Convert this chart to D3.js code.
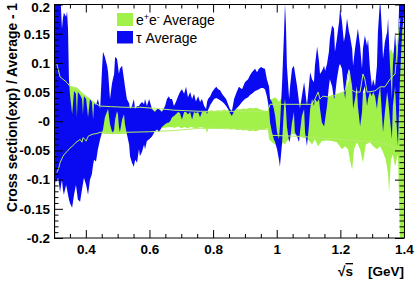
<!DOCTYPE html>
<meta charset="utf-8">
<script src="https://d3js.org/d3.v7.min.js"></script>
<style>
  body { margin: 0; background: #fff; }
  text { font-family: "Liberation Sans", Arial, sans-serif; }
</style>
<svg id="my_dataviz" width="415" height="281"></svg>
<script>

// e+e- average band (relative)
var eeX = [0.300,0.303,0.306,0.313,0.319,0.325,0.331,0.341,0.350,0.363,
  0.372,0.382,0.391,0.401,0.407,0.413,0.423,0.435,0.445,0.476,
  0.507,0.539,0.570,0.602,0.633,0.665,
  0.680,0.690,0.700,0.710,0.720,0.730,0.740,0.750,0.760,0.770,
  0.776,0.781,0.785,
  0.795,0.805,0.815,0.825,0.835,0.845,0.855,0.865,0.875,0.885,
  0.895,0.905,0.915,0.925,0.935,0.945,0.955,0.965,0.972,
  0.976,0.985,0.995,1.001,1.007,1.013,1.020,1.026,1.032,1.042,
  1.048,1.064,1.079,1.095,1.111,1.120,1.130,1.142,1.158,1.174,
  1.189,1.205,1.215,1.224,1.230,1.237,1.243,1.252,1.262,1.271,
  1.280,1.293,1.303,1.315,1.325,1.334,1.343,1.350,1.353,1.359,
  1.365,1.372,1.378,1.381,1.387,1.394,1.400];
var eeHi = [0.3,0.3,0.098,0.086,0.076,0.072,0.069,0.064,0.060,0.059,
  0.057,0.052,0.047,0.043,0.041,0.038,0.034,0.029,0.026,0.024,
  0.024,0.024,0.022,0.021,0.019,0.017,
  0.018,0.016,0.019,0.017,0.018,0.016,0.019,0.017,0.018,0.016,
  0.018,0.028,0.017,
  0.019,0.017,0.019,0.018,0.020,0.018,0.020,0.019,0.021,0.020,
  0.022,0.021,0.023,0.022,0.023,0.021,0.019,0.018,0.017,
  0.038,0.038,0.041,0.038,0.033,0.038,0.047,0.052,0.038,0.034,
  0.033,0.031,0.031,0.033,0.036,0.038,0.038,0.040,0.041,0.045,
  0.047,0.050,0.052,0.064,0.081,0.072,0.055,0.047,0.045,0.048,
  0.050,0.052,0.055,0.055,0.059,0.064,0.081,0.107,0.115,0.124,
  0.115,0.124,0.133,0.141,0.193,0.3,0.3];
var eeLo = [-0.3,-0.3,-0.097,-0.086,-0.071,-0.060,-0.057,-0.052,-0.043,-0.038,
  -0.034,-0.031,-0.028,-0.031,-0.022,-0.026,-0.022,-0.021,-0.021,-0.022,
  -0.022,-0.021,-0.019,-0.016,-0.012,-0.010,
  -0.011,-0.009,-0.012,-0.010,-0.012,-0.010,-0.011,-0.012,-0.010,-0.011,
  -0.012,-0.020,-0.011,
  -0.012,-0.011,-0.013,-0.012,-0.013,-0.012,-0.014,-0.013,-0.015,-0.014,
  -0.016,-0.015,-0.017,-0.016,-0.017,-0.015,-0.014,-0.013,-0.012,
  -0.031,-0.036,-0.040,-0.043,-0.053,-0.045,-0.036,-0.040,-0.034,-0.028,
  -0.022,-0.024,-0.028,-0.029,-0.040,-0.031,-0.043,-0.034,-0.033,-0.034,
  -0.036,-0.048,-0.043,-0.048,-0.066,-0.083,-0.048,-0.036,-0.048,-0.071,
  -0.040,-0.036,-0.043,-0.048,-0.043,-0.053,-0.066,-0.091,-0.122,-0.066,
  -0.057,-0.078,-0.062,-0.057,-0.191,-0.3,-0.3];

// tau average band (relative)
var tauX = [0.300,0.303,0.306,0.313,0.319,0.322,0.325,0.328,0.331,0.338,
  0.341,0.344,0.347,0.350,0.357,0.363,0.369,0.372,0.375,0.382,
  0.388,0.391,0.394,0.401,0.407,0.413,0.419,0.423,0.426,0.432,
  0.438,0.445,0.451,0.454,0.460,0.467,0.470,0.476,0.482,0.485,
  0.489,0.492,0.498,0.501,0.504,0.507,0.514,0.520,0.523,0.529,
  0.536,0.539,0.545,0.551,0.555,0.561,0.567,0.570,0.577,0.583,
  0.586,0.592,0.599,0.608,0.617,0.624,0.630,0.639,0.649,0.655,
  0.661,0.665,0.671,0.677,0.683,0.690,0.696,0.702,0.709,0.715,
  0.721,0.728,0.734,0.740,0.746,0.753,0.759,0.765,0.772,0.778,
  0.781,0.784,0.791,0.797,0.803,0.810,0.816,0.822,0.828,0.834,
  0.841,0.847,0.853,0.859,0.866,0.872,0.881,0.891,0.900,0.910,
  0.916,0.922,0.932,0.938,0.944,0.951,0.957,0.963,0.969,0.976,
  0.979,0.985,0.991,0.995,1.001,1.007,1.010,1.017,1.023,1.026,
  1.029,1.032,1.039,1.042,1.048,1.054,1.057,1.064,1.070,1.073,
  1.079,1.086,1.089,1.095,1.101,1.105,1.111,1.117,1.120,1.127,
  1.133,1.136,1.142,1.149,1.152,1.158,1.164,1.167,1.174,1.180,
  1.183,1.189,1.196,1.199,1.205,1.211,1.215,1.221,1.227,1.230,
  1.237,1.240,1.246,1.252,1.255,1.262,1.268,1.271,1.277,1.284,
  1.287,1.293,1.299,1.303,1.309,1.315,1.318,1.325,1.331,1.334,
  1.340,1.347,1.350,1.356,1.362,1.365,1.372,1.378,1.381,1.387,
  1.394,1.400];
var tauHi = [0.25,0.25,0.25,0.25,0.25,0.193,0.159,0.176,0.186,0.179,
  0.188,0.159,0.072,0.047,0.012,0.052,0.047,0.007,0.050,0.045,
  0.038,0.012,0.043,0.038,0.007,0.038,0.033,0.003,0.031,0.028,
  0.038,0.021,0.090,0.119,0.110,0.095,0.084,0.038,0.064,0.072,
  0.081,0.110,0.107,0.095,0.081,0.090,0.095,0.072,0.060,0.038,
  0.031,0.021,0.026,0.038,0.021,0.026,0.026,0.029,0.033,0.029,
  0.038,0.026,0.038,0.021,0.016,0.021,0.021,0.016,0.026,0.038,
  0.043,0.038,0.038,0.026,0.033,0.043,0.050,0.055,0.047,0.059,
  0.041,0.050,0.038,0.047,0.034,0.043,0.033,0.038,0.026,0.021,
  0.033,0.038,0.043,0.050,0.055,0.059,0.055,0.053,0.047,0.043,
  0.038,0.029,0.021,0.017,0.038,0.047,0.059,0.055,0.067,0.072,
  0.079,0.084,0.090,0.084,0.090,0.093,0.091,0.090,0.072,0.059,
  0.038,0.033,0.021,0.009,-0.019,-0.031,-0.009,0.067,0.153,0.202,
  0.164,0.095,0.038,0.060,0.090,0.095,0.084,0.060,0.033,0.021,
  0.043,0.067,0.055,0.026,0.060,0.084,0.072,0.067,0.095,0.128,
  0.102,0.081,0.086,0.095,0.086,0.098,0.119,0.141,0.164,0.159,
  0.119,0.141,0.171,0.193,0.171,0.136,0.147,0.176,0.153,0.147,
  0.124,0.095,0.124,0.147,0.159,0.129,0.090,0.124,0.147,0.129,
  0.141,0.090,0.060,0.072,0.060,0.095,0.153,0.21,0.153,0.107,
  0.136,0.153,0.176,0.095,0.038,0.095,0.153,0.095,0.124,0.25,
  0.25,0.25];
var tauLo = [-0.095,-0.100,-0.105,-0.097,-0.121,-0.110,-0.100,-0.117,-0.126,-0.109,
  -0.117,-0.126,-0.134,-0.140,-0.148,-0.126,-0.109,-0.121,-0.134,-0.138,
  -0.117,-0.107,-0.097,-0.109,-0.126,-0.100,-0.091,-0.074,-0.066,-0.069,
  -0.048,-0.031,-0.019,-0.014,0.007,0.017,0.021,-0.005,-0.017,-0.021,
  -0.014,0.003,0.017,0.012,-0.010,-0.019,0.003,0.012,-0.005,-0.022,
  -0.040,-0.060,-0.071,-0.078,-0.066,-0.071,-0.048,-0.060,-0.052,-0.040,
  -0.048,-0.034,-0.031,-0.026,-0.017,-0.014,-0.019,-0.010,-0.005,-0.003,
  -0.002,0.000,0.007,0.009,0.012,0.016,0.014,0.003,0.016,0.016,
  0.012,0.016,0.003,0.016,0.014,0.016,0.007,0.016,0.016,0.017,
  0.012,0.019,0.028,0.033,0.038,0.040,0.038,0.036,0.034,0.031,
  0.026,0.021,0.014,0.009,0.017,0.021,0.026,0.033,0.038,0.041,
  0.045,0.047,0.052,0.053,0.055,0.057,0.057,0.055,0.043,0.021,
  -0.002,-0.019,-0.031,-0.036,-0.048,-0.066,-0.078,-0.036,0.026,0.038,
  0.021,-0.009,-0.036,-0.031,-0.002,0.016,-0.019,-0.026,-0.036,-0.019,
  0.009,0.021,-0.019,-0.043,-0.009,0.021,0.038,0.026,0.038,0.033,
  0.038,0.021,-0.002,-0.009,0.003,0.026,0.060,0.072,0.060,0.038,
  0.043,0.072,0.095,0.098,0.090,0.055,0.038,0.078,0.090,0.084,
  0.060,0.021,0.038,0.060,0.026,-0.009,0.016,0.050,0.060,0.026,
  0.038,0.050,0.043,0.050,0.043,0.021,0.038,0.060,0.009,-0.019,
  0.016,0.050,0.038,0.003,-0.031,0.026,0.060,-0.019,-0.043,0.067,
  0.153,0.184];

// thin outline lines of the e+e- band
var lineHiX = [0.309,0.319,0.328,0.335,0.341,0.350,0.360,0.372,0.382,0.391,
  0.401,0.413,0.423,0.435,0.445,0.480,0.520,0.570,0.620,0.677,
  0.760,0.972,0.979,1.042,1.111,1.120,1.130,1.136,1.145,1.167,
  1.199,1.215,1.227,1.233,1.246,1.262,1.271,1.277,1.284,1.309,
  1.325,1.340,1.356,1.372,1.387];
var lineHi = [0.098,0.076,0.072,0.069,0.066,0.060,0.058,0.057,0.052,0.047,
  0.043,0.038,0.034,0.029,0.026,0.025,0.024,0.024,0.022,0.019,
  0.017,0.017,0.029,0.029,0.029,0.038,0.050,0.038,0.043,0.041,
  0.047,0.052,0.086,0.055,0.050,0.050,0.081,0.072,0.050,0.052,
  0.059,0.059,0.072,0.081,0.176];
var lineLoX = [0.309,0.315,0.319,0.325,0.328,0.335,0.341,0.350,0.357,0.363,
  0.369,0.375,0.382,0.388,0.391,0.397,0.401,0.407,0.413,0.423,
  0.435,0.445,0.520,0.600,0.677,0.759,0.972,0.979,1.073,1.199,
  1.325,1.387];
var lineLo = [-0.088,-0.080,-0.071,-0.064,-0.060,-0.055,-0.052,-0.046,-0.043,-0.040,
  -0.036,-0.034,-0.031,-0.036,-0.028,-0.031,-0.034,-0.026,-0.024,-0.022,
  -0.021,-0.019,-0.019,-0.018,-0.016,-0.012,-0.014,-0.024,-0.026,-0.031,
  -0.036,-0.048];

// axis ticks and labels
var xTicks = [0.4, 0.6, 0.8, 1.0, 1.2, 1.4];
var xTickLabels = ["0.4", "0.6", "0.8", "1", "1.2", "1.4"];
var yTicks = [-0.2, -0.15, -0.1, -0.05, 0, 0.05, 0.1, 0.15, 0.2];
var yTickLabels = ["-0.2", "-0.15", "-0.1", "-0.05", "-0", "0.05", "0.1", "0.15", "0.2"];

var legendLabels = ["e+e- Average", "τ Average"];
var eeColor = "#a2f04a", tauColor = "#0a0af2", lineColor = "#b6ec6c";

var svg = d3.select("svg");
var plotL = 54, plotR = 404, plotT = 4.5, plotB = 238;

var x = d3.scaleLinear().domain([0.3, 1.4]).range([plotL, plotR]);
var y = d3.scaleLinear().domain([-0.2, 0.2]).range([plotB, plotT]);

svg.append("defs").append("clipPath").attr("id", "clip")
  .append("rect")
    .attr("x", plotL).attr("y", plotT)
    .attr("width", plotR - plotL).attr("height", plotB - plotT);

var plot = svg.append("g").attr("clip-path", "url(#clip)");

var area = d3.area()
    .x(function(d){ return x(d.x) })
    .y0(function(d){ return y(d.lo) })
    .y1(function(d){ return y(d.hi) });

var eeRows = eeX.map(function(v, i){ return {x: v, hi: eeHi[i], lo: eeLo[i]} });
var tauRows = tauX.map(function(v, i){ return {x: v, hi: tauHi[i], lo: tauLo[i]} });

plot.append("path").datum(eeRows)
    .attr("d", area)
    .attr("fill", eeColor);

plot.append("path").datum(tauRows)
    .attr("d", area)
    .attr("fill", tauColor);

var line = d3.line()
    .x(function(d){ return x(d[0]) })
    .y(function(d){ return y(d[1]) });

plot.append("path").datum(d3.zip(lineHiX, lineHi))
    .attr("d", line)
    .style("fill", "none").style("stroke", lineColor).style("stroke-width", 1);
plot.append("path").datum(d3.zip(lineLoX, lineLo))
    .attr("d", line)
    .style("fill", "none").style("stroke", lineColor).style("stroke-width", 1);

// minor tick positions
var xMinor = d3.range(6, 29).filter(function(i){ return i % 4 != 0 }).map(function(i){ return i * 0.05 });
var yMinor = d3.range(-20, 21).filter(function(i){ return i % 5 != 0 }).map(function(i){ return i * 0.01 });

function styleAxis(g) {
  g.select(".domain").remove();
  g.selectAll("line").attr("stroke", "#000");
  g.selectAll("text")
    .attr("fill", "#000")
    .style("font-size", "13.5px")
    .style("font-weight", "bold")
    .style("font-family", "'Liberation Sans', Arial, sans-serif");
}

// bottom
svg.append("g").attr("transform", "translate(0," + plotB + ")")
  .call(d3.axisBottom(x).tickValues(xTicks).tickSize(-8).tickPadding(6)
    .tickFormat(function(d, i){ return xTickLabels[i] }))
  .call(styleAxis);
svg.append("g").attr("transform", "translate(0," + plotB + ")")
  .call(d3.axisBottom(x).tickValues(xMinor).tickSize(-4).tickFormat(""))
  .call(styleAxis);
// top
svg.append("g").attr("transform", "translate(0," + plotT + ")")
  .call(d3.axisTop(x).tickValues(xTicks).tickSize(-8).tickFormat(""))
  .call(styleAxis);
svg.append("g").attr("transform", "translate(0," + plotT + ")")
  .call(d3.axisTop(x).tickValues(xMinor).tickSize(-4).tickFormat(""))
  .call(styleAxis);
// left
var yAxisG = svg.append("g").attr("transform", "translate(" + plotL + ",0)")
  .call(d3.axisLeft(y).tickValues(yTicks).tickSize(-9).tickPadding(4)
    .tickFormat(function(d, i){ return yTickLabels[i] }))
  .call(styleAxis);
// keep the top label inside the picture
yAxisG.selectAll(".tick text").filter(function(d){ return d > 0.19 }).attr("y", 2.5);
svg.append("g").attr("transform", "translate(" + plotL + ",0)")
  .call(d3.axisLeft(y).tickValues(yMinor).tickSize(-4.5).tickFormat(""))
  .call(styleAxis);
// right
svg.append("g").attr("transform", "translate(" + plotR + ",0)")
  .call(d3.axisRight(y).tickValues(yTicks).tickSize(-9).tickFormat(""))
  .call(styleAxis);
svg.append("g").attr("transform", "translate(" + plotR + ",0)")
  .call(d3.axisRight(y).tickValues(yMinor).tickSize(-4.5).tickFormat(""))
  .call(styleAxis);

// frame
svg.append("rect")
    .attr("x", plotL + 0.5).attr("y", plotT)
    .attr("width", plotR - plotL).attr("height", plotB - plotT)
    .style("fill", "none").style("stroke", "#000").style("stroke-width", 1);

// axis titles
svg.append("text")
    .attr("transform", "translate(16.5,3) rotate(-90)")
    .attr("text-anchor", "end")
    .style("font-size", "13.8px").style("font-weight", "bold")
    .text("Cross section(exp) / Average - 1");

svg.append("text")
    .attr("x", plotR).attr("y", 276)
    .attr("text-anchor", "end")
    .style("font-size", "13.5px").style("font-weight", "bold")
    .text("[GeV]");
var sq = svg.append("text")
    .attr("x", 353).attr("y", 276)
    .attr("text-anchor", "end")
    .style("font-size", "13.5px").style("font-weight", "bold");
sq.append("tspan").text("√");
sq.append("tspan").style("text-decoration", "overline").text("s");

// legend
var legend = svg.append("g");
legend.append("rect").attr("x", 117).attr("y", 13).attr("width", 16).attr("height", 13).attr("fill", eeColor);
legend.append("rect").attr("x", 117).attr("y", 31).attr("width", 16).attr("height", 12.5).attr("fill", tauColor);

var t1 = legend.append("text").attr("x", 136).attr("y", 25).style("font-size", "14px");
t1.append("tspan").text("e");
t1.append("tspan").attr("dy", -5).style("font-size", "9px").text("+");
t1.append("tspan").attr("dy", 5).text("e");
t1.append("tspan").attr("dy", -5).style("font-size", "9px").text("-");
t1.append("tspan").attr("dy", 5).text(" Average");

legend.append("text").attr("x", 136).attr("y", 42.5).style("font-size", "14px")
    .text(legendLabels[1]);

</script>
